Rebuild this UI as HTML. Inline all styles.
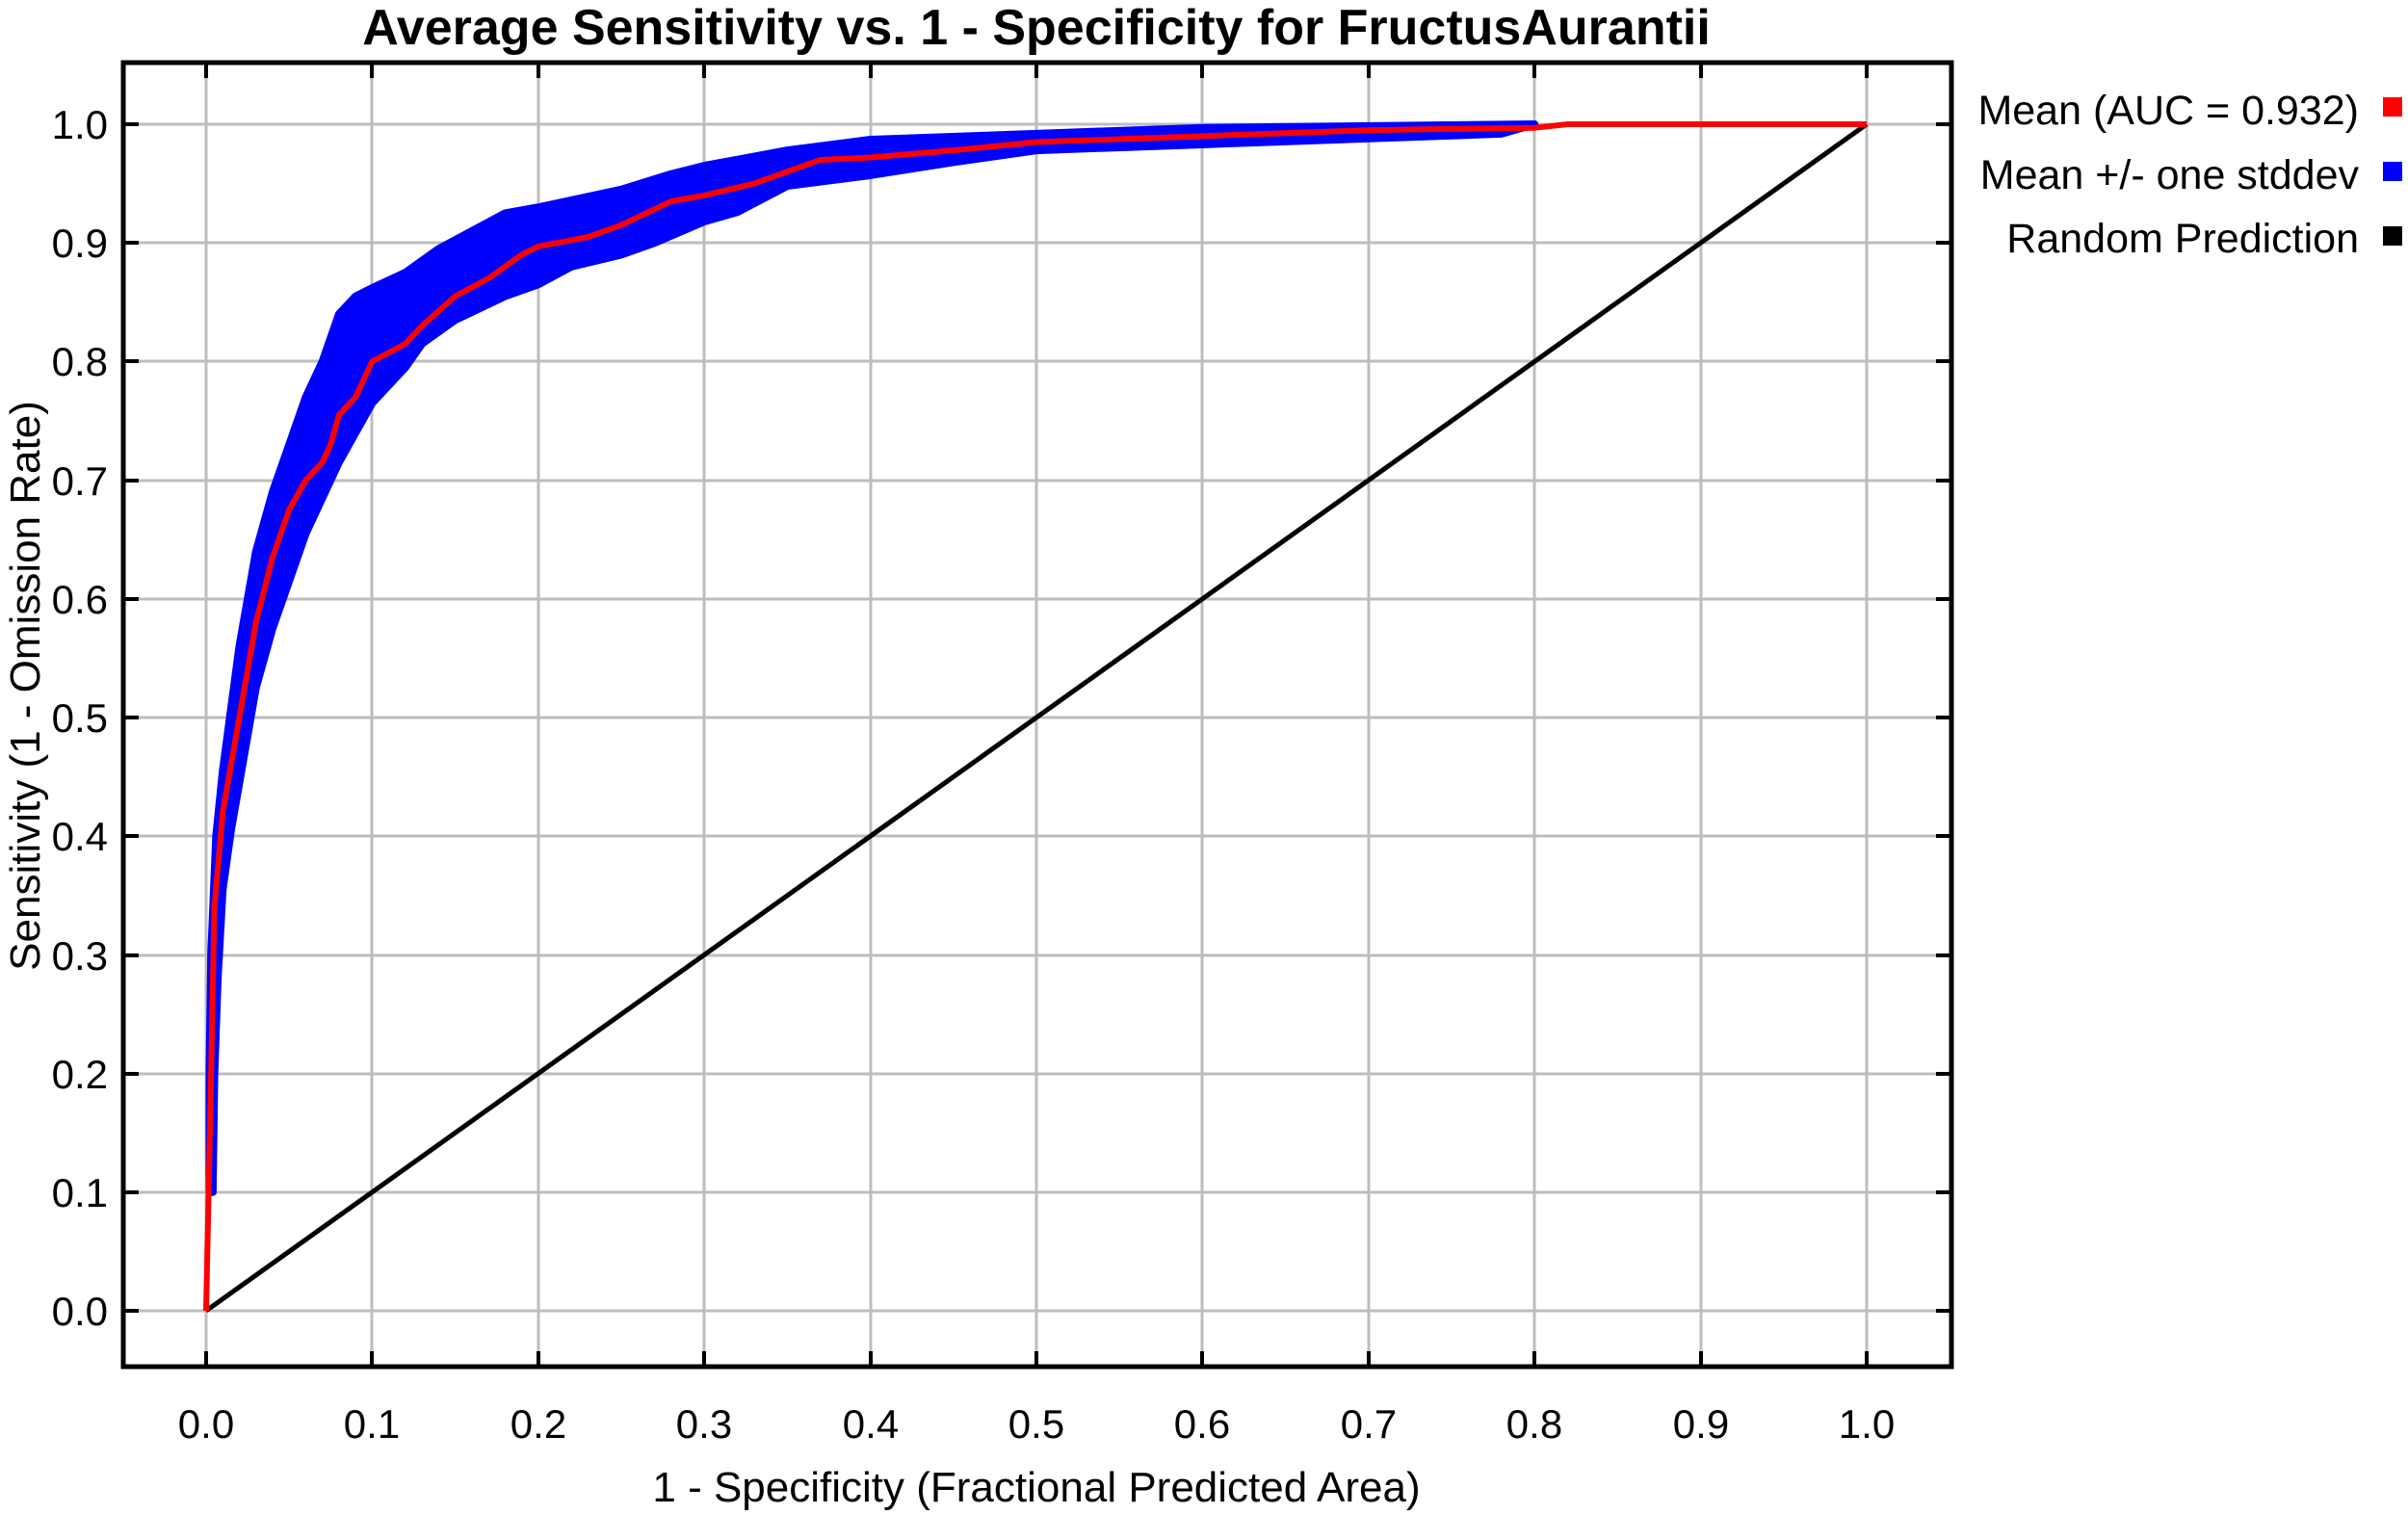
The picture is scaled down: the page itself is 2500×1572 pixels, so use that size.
<!DOCTYPE html>
<html><head><meta charset="utf-8"><style>
html,body{margin:0;padding:0;background:#fff;}
svg{display:block;}
text{font-family:"Liberation Sans",sans-serif;fill:#000;}
</style></head><body>
<svg width="2500" height="1572" viewBox="0 0 2500 1572" xmlns="http://www.w3.org/2000/svg">
<rect width="2500" height="1572" fill="#fff"/>
<text x="1076" y="46" font-size="52" font-weight="bold" text-anchor="middle">Average Sensitivity vs. 1 - Specificity for FructusAurantii</text>
<g stroke="#bdbdbd" stroke-width="3">
<line x1="214" y1="65" x2="214" y2="1419"/><line x1="386" y1="65" x2="386" y2="1419"/><line x1="559" y1="65" x2="559" y2="1419"/><line x1="731" y1="65" x2="731" y2="1419"/><line x1="904" y1="65" x2="904" y2="1419"/><line x1="1076" y1="65" x2="1076" y2="1419"/><line x1="1248" y1="65" x2="1248" y2="1419"/><line x1="1421" y1="65" x2="1421" y2="1419"/><line x1="1593" y1="65" x2="1593" y2="1419"/><line x1="1766" y1="65" x2="1766" y2="1419"/><line x1="1938" y1="65" x2="1938" y2="1419"/>
<line x1="128" y1="129" x2="2026" y2="129"/><line x1="128" y1="252" x2="2026" y2="252"/><line x1="128" y1="375" x2="2026" y2="375"/><line x1="128" y1="499" x2="2026" y2="499"/><line x1="128" y1="622" x2="2026" y2="622"/><line x1="128" y1="745" x2="2026" y2="745"/><line x1="128" y1="868" x2="2026" y2="868"/><line x1="128" y1="992" x2="2026" y2="992"/><line x1="128" y1="1115" x2="2026" y2="1115"/><line x1="128" y1="1238" x2="2026" y2="1238"/><line x1="128" y1="1361" x2="2026" y2="1361"/>
</g>
<g transform="translate(214,1361) scale(1724,-1232)">
<polygon fill="#0000ff" stroke="#0000ff" stroke-width="8" vector-effect="non-scaling-stroke" stroke-linejoin="round" points="0.002,0.1 0.002,0.2 0.003,0.3 0.006,0.4 0.01,0.455 0.02,0.56 0.03,0.64 0.04,0.69 0.05,0.73 0.06,0.77 0.07,0.8 0.08,0.84 0.09,0.855 0.1,0.862 0.12,0.875 0.14,0.895 0.16,0.91 0.18,0.925 0.2,0.93 0.25,0.945 0.28,0.958 0.3,0.965 0.35,0.978 0.4,0.987 0.5,0.992 0.6,0.997 0.8,1 0.78,0.992 0.6,0.983 0.5,0.978 0.45,0.968 0.4,0.957 0.35,0.948 0.32,0.926 0.3,0.918 0.27,0.9 0.25,0.89 0.22,0.88 0.2,0.865 0.18,0.855 0.15,0.835 0.13,0.815 0.12,0.795 0.1,0.765 0.09,0.74 0.08,0.715 0.07,0.685 0.06,0.655 0.05,0.615 0.04,0.575 0.03,0.525 0.02,0.445 0.015,0.405 0.01,0.355 0.007,0.28 0.005,0.2 0.004,0.1"/>
<polyline fill="none" stroke="#000" stroke-width="5" vector-effect="non-scaling-stroke" points="0,0 1,1"/>
<polyline fill="none" stroke="#ff0000" stroke-width="6" vector-effect="non-scaling-stroke" stroke-linejoin="round" points="0,0 0.003,0.2 0.005,0.34 0.01,0.42 0.015,0.46 0.02,0.5 0.03,0.58 0.04,0.635 0.05,0.675 0.06,0.7 0.07,0.715 0.075,0.73 0.08,0.755 0.09,0.77 0.1,0.8 0.12,0.815 0.13,0.83 0.15,0.855 0.17,0.87 0.19,0.89 0.2,0.897 0.23,0.905 0.25,0.915 0.28,0.935 0.3,0.94 0.33,0.95 0.37,0.97 0.4,0.972 0.45,0.978 0.5,0.985 0.6,0.99 0.7,0.995 0.8,0.997 0.82,1 1,1"/>
</g>
<g stroke="#000" stroke-width="4">
<line x1="214" y1="1419" x2="214" y2="1403"/><line x1="386" y1="1419" x2="386" y2="1403"/><line x1="559" y1="1419" x2="559" y2="1403"/><line x1="731" y1="1419" x2="731" y2="1403"/><line x1="904" y1="1419" x2="904" y2="1403"/><line x1="1076" y1="1419" x2="1076" y2="1403"/><line x1="1248" y1="1419" x2="1248" y2="1403"/><line x1="1421" y1="1419" x2="1421" y2="1403"/><line x1="1593" y1="1419" x2="1593" y2="1403"/><line x1="1766" y1="1419" x2="1766" y2="1403"/><line x1="1938" y1="1419" x2="1938" y2="1403"/>
<line x1="214" y1="65" x2="214" y2="81"/><line x1="386" y1="65" x2="386" y2="81"/><line x1="559" y1="65" x2="559" y2="81"/><line x1="731" y1="65" x2="731" y2="81"/><line x1="904" y1="65" x2="904" y2="81"/><line x1="1076" y1="65" x2="1076" y2="81"/><line x1="1248" y1="65" x2="1248" y2="81"/><line x1="1421" y1="65" x2="1421" y2="81"/><line x1="1593" y1="65" x2="1593" y2="81"/><line x1="1766" y1="65" x2="1766" y2="81"/><line x1="1938" y1="65" x2="1938" y2="81"/>
<line x1="128" y1="129" x2="144" y2="129"/><line x1="128" y1="252" x2="144" y2="252"/><line x1="128" y1="375" x2="144" y2="375"/><line x1="128" y1="499" x2="144" y2="499"/><line x1="128" y1="622" x2="144" y2="622"/><line x1="128" y1="745" x2="144" y2="745"/><line x1="128" y1="868" x2="144" y2="868"/><line x1="128" y1="992" x2="144" y2="992"/><line x1="128" y1="1115" x2="144" y2="1115"/><line x1="128" y1="1238" x2="144" y2="1238"/><line x1="128" y1="1361" x2="144" y2="1361"/>
<line x1="2026" y1="129" x2="2010" y2="129"/><line x1="2026" y1="252" x2="2010" y2="252"/><line x1="2026" y1="375" x2="2010" y2="375"/><line x1="2026" y1="499" x2="2010" y2="499"/><line x1="2026" y1="622" x2="2010" y2="622"/><line x1="2026" y1="745" x2="2010" y2="745"/><line x1="2026" y1="868" x2="2010" y2="868"/><line x1="2026" y1="992" x2="2010" y2="992"/><line x1="2026" y1="1115" x2="2010" y2="1115"/><line x1="2026" y1="1238" x2="2010" y2="1238"/><line x1="2026" y1="1361" x2="2010" y2="1361"/>
</g>
<rect x="128" y="65" width="1898" height="1354" fill="none" stroke="#000" stroke-width="5"/>
<g font-size="42" text-anchor="end">
<text x="112" y="144">1.0</text><text x="112" y="267">0.9</text><text x="112" y="390">0.8</text><text x="112" y="514">0.7</text><text x="112" y="637">0.6</text><text x="112" y="760">0.5</text><text x="112" y="883">0.4</text><text x="112" y="1007">0.3</text><text x="112" y="1130">0.2</text><text x="112" y="1253">0.1</text><text x="112" y="1376">0.0</text>
</g>
<g font-size="42" text-anchor="middle">
<text x="214" y="1493">0.0</text><text x="386" y="1493">0.1</text><text x="559" y="1493">0.2</text><text x="731" y="1493">0.3</text><text x="904" y="1493">0.4</text><text x="1076" y="1493">0.5</text><text x="1248" y="1493">0.6</text><text x="1421" y="1493">0.7</text><text x="1593" y="1493">0.8</text><text x="1766" y="1493">0.9</text><text x="1938" y="1493">1.0</text>
</g>
<text x="1076" y="1559" font-size="44" text-anchor="middle">1 - Specificity (Fractional Predicted Area)</text>
<text transform="translate(41,712) rotate(-90)" font-size="44" text-anchor="middle">Sensitivity (1 - Omission Rate)</text>
<g font-size="43" text-anchor="end">
<text x="2449" y="129">Mean (AUC = 0.932)</text>
<text x="2449" y="196">Mean +/- one stddev</text>
<text x="2449" y="262">Random Prediction</text>
</g>
<rect x="2474" y="101" width="20" height="20" fill="#ff0000"/>
<rect x="2474" y="168" width="20" height="20" fill="#0000ff"/>
<rect x="2474" y="235" width="20" height="20" fill="#000"/>
</svg>
</body></html>
